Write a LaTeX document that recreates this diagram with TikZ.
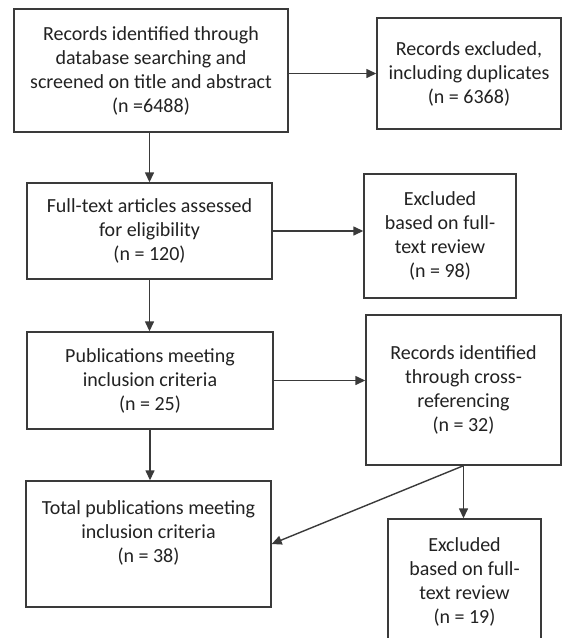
\documentclass[tikz,border=0pt]{standalone}
\usepackage{fontspec}
\setmainfont{Carlito}
\usetikzlibrary{arrows.meta}
\definecolor{linec}{HTML}{3A3A3A}
\definecolor{txtc}{HTML}{222222}
\begin{document}
\begin{tikzpicture}[x=1pt,y=-1pt,
  box/.style={draw=linec, line width=1.4pt, fill=white, align=center, inner sep=0pt,
    text=txtc, font=\fontsize{20}{24}\selectfont},
  arr/.style={draw=linec, line width=1.4pt, -{Triangle[length=10pt,width=9pt]}}]
\useasboundingbox (0,0) rectangle (564,638);
\fill[white] (0,0) rectangle (564,638);
\node[box, minimum width=274pt, minimum height=123pt] (b1) at (151,70.5)
  {Records identified through\\database searching and\\screened on title and abstract\\(n =6488)};
\node[box, minimum width=184pt, minimum height=111pt] (b2) at (469,73.5)
  {Records excluded,\\including duplicates\\(n = 6368)};
\node[box, minimum width=245pt, minimum height=96pt] (b3) at (149.5,231)
  {Full-text articles assessed\\for eligibility\\(n = 120)};
\node[box, minimum width=152pt, minimum height=124pt] (b4) at (440,236)
  {Excluded\\based on full-\\text review\\(n = 98)};
\node[box, minimum width=246pt, minimum height=97pt] (b5) at (150,380.5)
  {Publications meeting\\inclusion criteria\\(n = 25)};
\node[box, minimum width=195pt, minimum height=150pt] (b6) at (463.5,390)
  {Records identified\\through cross-\\referencing\\(n = 32)};
\node[box, minimum width=245pt, minimum height=126pt] (b7) at (148.5,544)
  {Total publications meeting\\inclusion criteria\\(n = 38)\\\mbox{}};
\node[box, minimum width=153pt, minimum height=126pt] (b8) at (464.5,582)
  {Excluded\\based on full-\\text review\\(n = 19)};
\draw[arr] (b1.east |- b2.west) -- (b2.west);
\draw[arr] (b1.south -| b3.north) -- (b3.north);
\draw[arr] (b3.east) -- (b3.east -| b4.west);
\draw[arr] (b3.south) -- (b3.south |- b5.north);
\draw[arr] (b5.east) -- (b5.east -| b6.west);
\draw[arr] (b5.south) -- (b5.south |- b7.north);
\draw[arr] (b6.south) -- (b6.south |- b8.north);
\draw[arr] (b6.south) -- (b7.east);
\end{tikzpicture}
\end{document}
